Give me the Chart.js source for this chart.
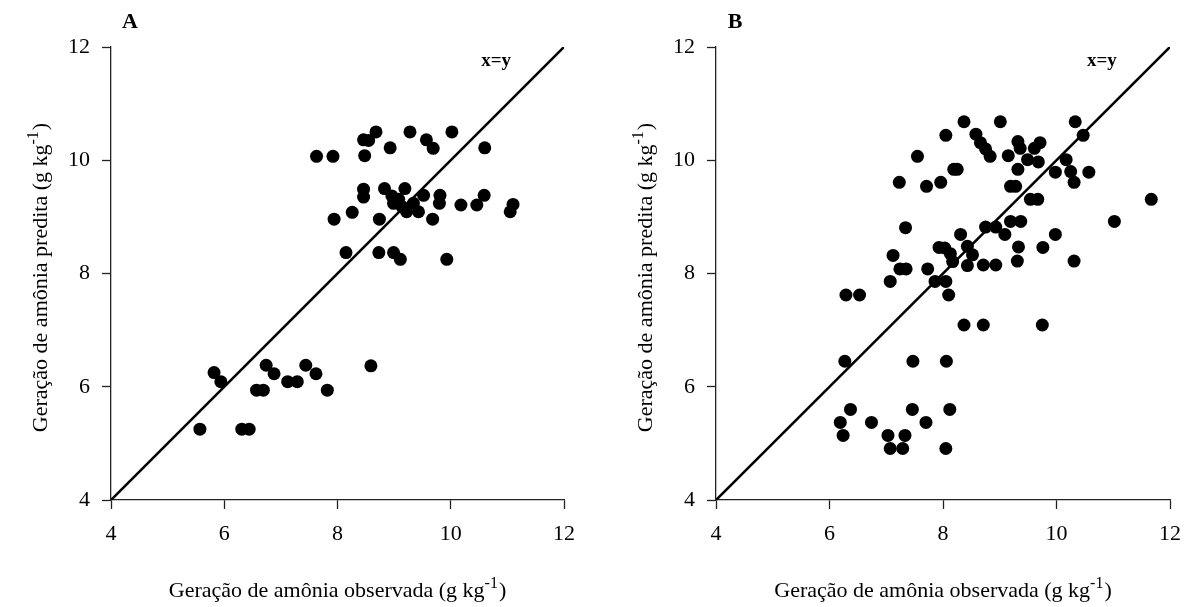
<!DOCTYPE html>
<html>
<head>
<meta charset="utf-8">
<script src="https://cdn.jsdelivr.net/npm/chart.js@4"></script>
<style>
body { margin: 0; background: #fff; width: 1185px; height: 607px; overflow: hidden; position: relative; }
canvas { position: absolute; top: 0; }
#chartA { left: 0; }
#chartB { left: 605px; }
</style>
</head>
<body>
<canvas id="chartA" width="595" height="607"></canvas>
<canvas id="chartB" width="590" height="607"></canvas>
<script>
// panel A: observed vs predicted
const observedA = [
    7.63, 7.92, 8.46, 8.55, 8.68, 8.48, 8.93, 9.28, 9.57, 9.69, 10.02, 10.60,
    7.94, 8.26, 8.46, 8.46, 8.74, 8.83, 8.96, 8.99, 9.08, 9.19, 9.14, 9.22,
    9.34, 9.43, 9.52, 9.68, 9.81, 9.80, 10.18, 10.46, 10.59, 11.10, 11.05,
    8.15, 8.73, 8.99, 9.11, 9.93,
    5.82, 5.94, 5.57, 6.31, 6.44, 6.57, 6.69, 6.74, 6.88, 7.12, 7.29, 7.44, 7.62, 7.82, 8.59
];
const predictedA = [
    10.07, 10.07, 10.36, 10.35, 10.50, 10.08, 10.22, 10.50, 10.36, 10.21, 10.50, 10.22,
    8.96, 9.08, 9.49, 9.35, 8.96, 9.50, 9.37, 9.24, 9.31, 9.50, 9.18, 9.09,
    9.24, 9.09, 9.38, 8.96, 9.38, 9.24, 9.21, 9.21, 9.38, 9.22, 9.09,
    8.37, 8.37, 8.37, 8.25, 8.25,
    6.25, 6.09, 5.25, 5.25, 5.25, 5.94, 5.94, 6.38, 6.23, 6.09, 6.09, 6.38, 6.23, 5.94, 6.37
];

// panel B
const observedB = [
    8.37, 9.01, 10.33, 8.05, 8.58, 8.66, 8.75, 8.83, 9.15, 9.32, 9.36, 9.61, 9.71,
    9.49, 9.68, 9.32, 10.47, 10.17, 9.98, 10.25, 10.31, 10.57, 7.55, 8.19, 8.25,
    7.23, 7.71, 7.96, 9.19, 9.28, 9.54, 9.67, 11.67,
    11.02, 9.19, 9.37, 8.75, 8.93, 9.09, 9.98, 8.31, 7.34, 7.12, 7.24, 7.35, 7.73,
    7.93, 8.03, 8.43, 9.33, 9.76, 8.13, 8.52, 8.17, 8.43, 8.71, 8.93, 9.31, 10.31,
    7.07, 7.86, 8.05, 8.10, 6.29, 6.53, 8.37, 8.71, 9.75,
    6.27, 7.47, 8.06, 6.37, 6.19, 6.24, 6.74, 7.03, 7.07, 7.29, 7.33, 7.46, 7.70, 8.05, 8.12
];
const predictedB = [
    10.68, 10.68, 10.68, 10.44, 10.46, 10.31, 10.20, 10.07, 10.08, 10.33, 10.21, 10.21, 10.31,
    10.01, 9.97, 9.84, 10.44, 10.01, 9.79, 9.80, 9.61, 9.79, 10.07, 9.84, 9.84,
    9.61, 9.54, 9.61, 9.54, 9.54, 9.31, 9.31, 9.31,
    8.92, 8.92, 8.92, 8.82, 8.82, 8.69, 8.69, 8.69, 8.81, 8.32, 8.08, 8.08, 8.08,
    8.46, 8.45, 8.48, 8.47, 8.46, 8.35, 8.33, 8.21, 8.14, 8.15, 8.15, 8.22, 8.22,
    7.86, 7.86, 7.86, 7.62, 7.62, 7.62, 7.09, 7.09, 7.09,
    6.45, 6.45, 6.45, 5.60, 5.37, 5.14, 5.37, 5.14, 4.91, 4.91, 5.14, 5.60, 5.37, 4.91, 5.60
];

const tickValues = [4, 6, 8, 10, 12];
const lineEnds = [4, 12];
const lineLabel = 'x=y';
const lineLabelAt = [10.8, 11.75];
// axis titles: main part, superscript, closing part
const xTitle = ['Geração de amônia observada (g kg', '-1', ')'];
const yTitle = ['Geração de amônia predita (g kg', '-1', ')'];

const serif = '"Liberation Serif", "Times New Roman", serif';

function drawTitle(ctx, parts, x, y, angle) {
    const mainFont = '22px ' + serif;
    const supFont = '16px ' + serif;
    ctx.save();
    ctx.translate(x, y);
    ctx.rotate(angle);
    ctx.font = mainFont;
    const w0 = ctx.measureText(parts[0]).width;
    const w2 = ctx.measureText(parts[2]).width;
    ctx.font = supFont;
    const w1 = ctx.measureText(parts[1]).width;
    let cx = -(w0 + w1 + w2 + 1) / 2;
    ctx.textAlign = 'left';
    ctx.textBaseline = 'alphabetic';
    ctx.fillStyle = '#000';
    ctx.font = mainFont;
    ctx.fillText(parts[0], cx, 7);
    cx += w0;
    ctx.font = supFont;
    ctx.fillText(parts[1], cx, -2);
    cx += w1 + 1;
    ctx.font = mainFont;
    ctx.fillText(parts[2], cx, 7);
    ctx.restore();
}

const panelText = {
    id: 'panelText',
    afterDraw(chart, args, opts) {
        const { ctx, chartArea, scales } = chart;
        ctx.save();
        ctx.fillStyle = '#000';
        ctx.textAlign = 'center';
        ctx.textBaseline = 'middle';
        ctx.font = 'bold 22px ' + serif;
        ctx.fillText(opts.letter, chartArea.left + 19, chartArea.top - 25);
        ctx.font = 'bold 19px ' + serif;
        ctx.fillText(lineLabel, scales.x.getPixelForValue(lineLabelAt[0]), scales.y.getPixelForValue(lineLabelAt[1]));
        ctx.restore();
        const midX = (chartArea.left + chartArea.right) / 2;
        drawTitle(ctx, xTitle, midX, 590, 0);
        drawTitle(ctx, yTitle, chartArea.left - 71, (chartArea.top + chartArea.bottom) / 2 + 4, -Math.PI / 2);
    }
};

function axis(isX) {
    return {
        type: 'linear',
        min: 4,
        max: 12,
        afterBuildTicks: (scale) => { scale.ticks = tickValues.map(v => ({ value: v })); },
        afterFit: (scale) => {
            if (isX) scale.height = 107;
            else scale.width = 111;
        },
        border: { color: '#222', width: 1.3 },
        grid: { drawOnChartArea: false, drawTicks: true, tickLength: 9, tickColor: '#222', tickWidth: 1.3 },
        ticks: { color: '#000', padding: 12, font: { family: serif, size: 22 } }
    };
}

function makeChart(id, xs, ys, letter, rightPad) {
    return new Chart(document.getElementById(id), {
        type: 'scatter',
        data: {
            datasets: [
                {
                    data: xs.map((x, i) => ({ x: x, y: ys[i] })),
                    backgroundColor: '#000',
                    borderWidth: 0,
                    pointRadius: 6.5,
                    pointHoverRadius: 6.5
                },
                {
                    type: 'line',
                    data: lineEnds.map(v => ({ x: v, y: v })),
                    borderColor: '#000',
                    borderWidth: 2.6,
                    pointRadius: 0,
                    fill: false
                }
            ]
        },
        options: {
            responsive: false,
            animation: false,
            layout: { padding: { top: 47, right: rightPad, left: 0, bottom: 0 } },
            plugins: {
                legend: { display: false },
                tooltip: { enabled: false },
                panelText: { letter: letter }
            },
            scales: {
                x: axis(true),
                y: axis(false)
            }
        },
        plugins: [panelText]
    });
}

makeChart('chartA', observedA, predictedA, 'A', 31);
makeChart('chartB', observedB, predictedB, 'B', 25);
</script>
</body>
</html>
